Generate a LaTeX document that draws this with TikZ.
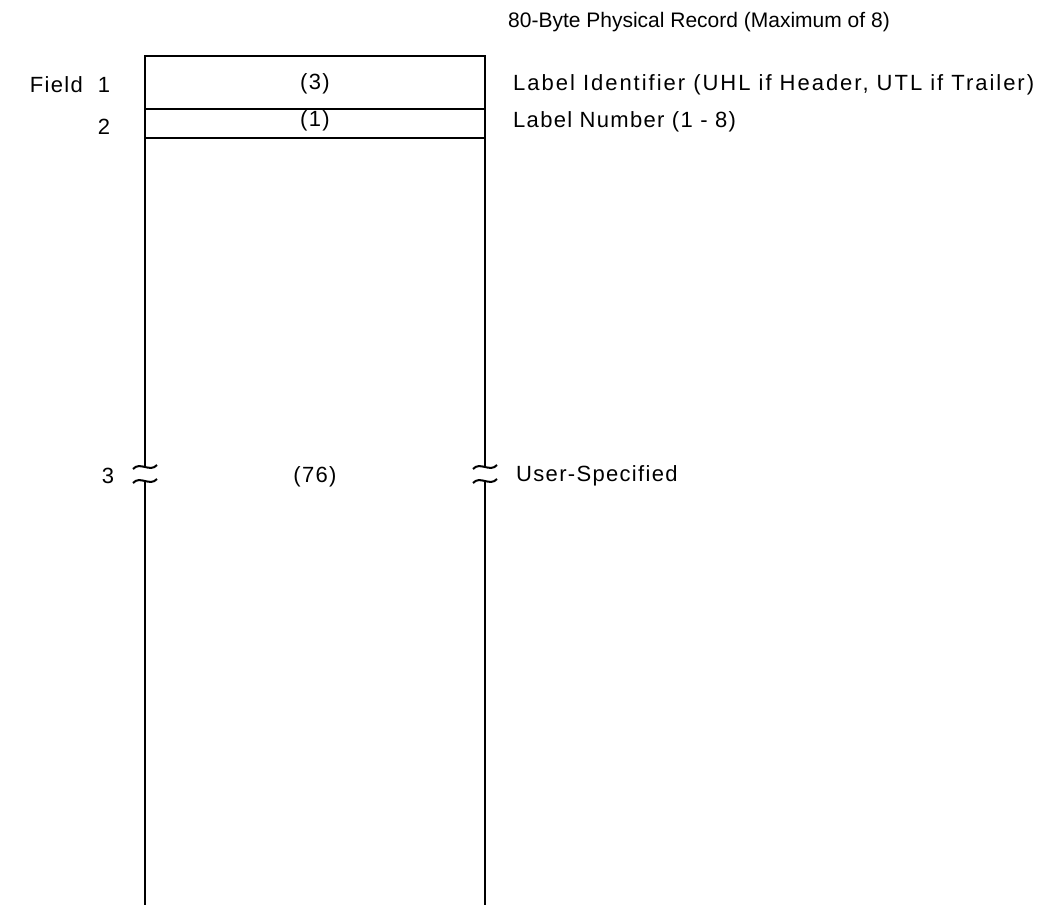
\documentclass[tikz,border=0pt]{standalone}
\usepackage{fontspec}
\setmainfont{Liberation Sans}[LetterSpace=6]
\newfontfamily\titlefont{Liberation Sans}
\begin{document}
\begin{tikzpicture}[
    x=0.5pt, y=-0.5pt,
    line width=1.2pt,
    every node/.style={font=\fontsize{11}{13}\selectfont, text=black, inner sep=0pt},
    recline/.style={draw=black},
    breakmark/.style={draw=black, line width=1pt},
    desc/.style={anchor=west}
  ]
  \useasboundingbox (0,0) rectangle (1043,905);

  %--------------------------------------
  % 1) Title over the record
  %--------------------------------------
  \node[font=\titlefont\fontsize{10.5}{12}\selectfont] (title) at (699,22) {80-Byte Physical Record (Maximum of 8)};

  %--------------------------------------
  % 2) Corners of the record and field rules
  %--------------------------------------
  \coordinate (TL) at (145,56);
  \coordinate (TR) at (485,56);
  \coordinate (L1) at (145,109);  % end of field 1
  \coordinate (R1) at (485,109);
  \coordinate (L2) at (145,138);  % end of field 2
  \coordinate (R2) at (485,138);
  \coordinate (LA) at (145,467);  % left side, above break
  \coordinate (LB) at (145,481);  % left side, below break
  \coordinate (RA) at (485,467);  % right side, above break
  \coordinate (RB) at (485,481);  % right side, below break
  \coordinate (LE) at (145,905);  % open bottom
  \coordinate (RE) at (485,905);

  % Outline (no bottom edge)
  \draw[recline] (LA) -- (TL) -- (TR) -- (RA);
  \draw[recline] (LB) -- (LE);
  \draw[recline] (RB) -- (RE);
  % Field rules
  \draw[recline] (L1) -- (R1);
  \draw[recline] (L2) -- (R2);

  % Break marks on both sides
  \foreach \bx in {145,485}
    \foreach \by in {467,481}
      \draw[breakmark] ({\bx-12},{\by+2}) .. controls ({\bx-5},{\by-6}) and ({\bx+5},{\by+6}) .. ({\bx+12},{\by-2});

  %--------------------------------------
  % 3) Field numbers and lengths
  %--------------------------------------
  \node (num1) at (104,85) {1};
  \node[anchor=east] (fieldhdr) at (84,85) {Field};
  \node (num2) at (104,127) {2};
  \node (num3) at (108,476) {3};

  \node (len3)  at (315,84)  {(3)};
  \node (len1)  at (315,121) {(1)};
  \node (len76) at (315,477) {(76)};

  %--------------------------------------
  % 4) Descriptions on the right
  %--------------------------------------
  \node[desc] (desc1) at (512,85)  {\addfontfeature{LetterSpace=9}Label Identifier (UHL if Header, UTL if Trailer)};
  \node[desc] (desc2) at (512,122) {Label Number (1 - 8)};
  \node[desc] (desc3) at (515,476) {User-Specified};

\end{tikzpicture}
\end{document}
